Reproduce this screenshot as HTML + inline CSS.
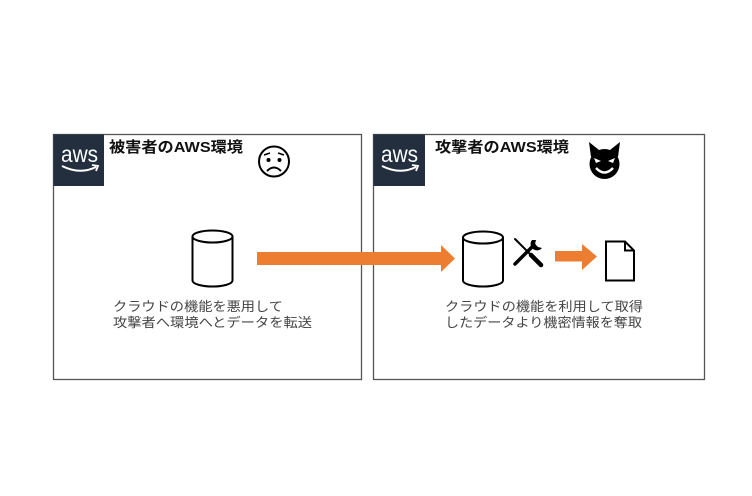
<!DOCTYPE html>
<html>
<head>
<meta charset="utf-8">
<style>
  html,body{margin:0;padding:0;background:#fff;}
  body{width:752px;height:496px;overflow:hidden;}
  svg{display:block;}
  .t{font-family:"Liberation Sans","Noto Sans CJK JP",sans-serif;}
</style>
</head>
<body>
<svg width="752" height="496" viewBox="0 0 752 496" xmlns="http://www.w3.org/2000/svg">
  <rect x="0" y="0" width="752" height="496" fill="#fff"/>

  <!-- Boxes -->
  <rect x="53.5" y="134.5" width="308" height="245" fill="none" stroke="#555" stroke-width="1.3"/>
  <rect x="373.5" y="134.5" width="331" height="245" fill="none" stroke="#555" stroke-width="1.3"/>

  <!-- AWS logo left -->
  <rect x="53.5" y="134.5" width="50.5" height="51.5" fill="#232f3e"/>
  <text x="61" y="162" class="t" font-size="23" fill="#fff" textLength="37" lengthAdjust="spacingAndGlyphs">aws</text>
  <path d="M62,166 Q80,175 96,167" fill="none" stroke="#fff" stroke-width="2"/>
  <path d="M92,165 L98,166 L96,171" fill="none" stroke="#fff" stroke-width="1.8"/>

  <!-- AWS logo right -->
  <rect x="373.5" y="134.5" width="51.5" height="51.5" fill="#232f3e"/>
  <text x="381" y="162" class="t" font-size="23" fill="#fff" textLength="37" lengthAdjust="spacingAndGlyphs">aws</text>
  <path d="M382,166 Q400,175 416,167" fill="none" stroke="#fff" stroke-width="2"/>
  <path d="M412,165 L418,166 L416,171" fill="none" stroke="#fff" stroke-width="1.8"/>

  <!-- Titles -->
  <text x="109" y="152" class="t" font-size="15" font-weight="bold" fill="#111" textLength="134" lengthAdjust="spacingAndGlyphs">被害者のAWS環境</text>
  <text x="435" y="152" class="t" font-size="15" font-weight="bold" fill="#111" textLength="134" lengthAdjust="spacingAndGlyphs">攻撃者のAWS環境</text>

  <!-- Sad face -->
  <circle cx="274" cy="161.5" r="15" fill="none" stroke="#000" stroke-width="2"/>
  <circle cx="268.5" cy="160" r="2" fill="#000"/>
  <circle cx="279.5" cy="160" r="2" fill="#000"/>
  <path d="M264,155 L270,153" stroke="#000" stroke-width="1.6" fill="none"/>
  <path d="M284,155 L278,153" stroke="#000" stroke-width="1.6" fill="none"/>
  <path d="M267,171 Q274,164 281,171" stroke="#000" stroke-width="2" fill="none"/>

  <!-- Devil face -->
  <path d="M589,142 L591,157 L599,150 Z" fill="#000"/>
  <path d="M620,142 L618,157 L610,150 Z" fill="#000"/>
  <circle cx="604.5" cy="164" r="15" fill="#000"/>
  <path d="M594,158 L601,161 L596,163 Z" fill="#fff"/>
  <path d="M615,158 L608,161 L613,163 Z" fill="#fff"/>
  <path d="M596,168 Q604.5,177 613,168" stroke="#fff" stroke-width="2.4" fill="none"/>

  <!-- Left cylinder -->
  <g fill="none" stroke="#000" stroke-width="2">
    <ellipse cx="212.5" cy="236.5" rx="20" ry="6"/>
    <path d="M192.5,236.5 V280.5 A20,6 0 0 0 232.5,280.5 V236.5"/>
  </g>

  <!-- Right cylinder -->
  <g fill="none" stroke="#000" stroke-width="2">
    <ellipse cx="483" cy="237.5" rx="20" ry="6"/>
    <path d="M463,237.5 V280.5 A20,6 0 0 0 503,280.5 V237.5"/>
  </g>

  <!-- Long arrow -->
  <polygon points="257,252 441,252 441,245 455,258.5 441,272 441,265 257,265" fill="#ed7d31"/>

  <!-- Tools -->
  <g stroke="#000" stroke-linecap="round">
    <line x1="515" y1="239" x2="531" y2="255" stroke-width="2"/>
    <line x1="531" y1="255" x2="541" y2="265" stroke-width="4.5"/>
    <line x1="515" y1="264" x2="534" y2="245" stroke-width="3.5"/>
  </g>
  <path d="M532,240 A6,6 0 1 0 542,248 L538,247 L535,244 L536,240 Z" fill="#000"/>

  <!-- Small arrow -->
  <polygon points="555,251 582,251 582,244 597,256.5 582,270 582,261.5 555,261.5" fill="#ed7d31"/>

  <!-- Document -->
  <g fill="none" stroke="#000" stroke-width="2" stroke-linejoin="miter">
    <path d="M606,241.5 H625 L634,250.5 V280.5 H606 Z"/>
    <path d="M625,241.5 V250.5 H634"/>
  </g>

  <!-- Texts -->
  <text x="113" y="311" class="t" font-size="13" fill="#444" textLength="170" lengthAdjust="spacingAndGlyphs">クラウドの機能を悪用して</text>
  <text x="113" y="327" class="t" font-size="13" fill="#444" textLength="199" lengthAdjust="spacingAndGlyphs">攻撃者へ環境へとデータを転送</text>
  <text x="445" y="311" class="t" font-size="13" fill="#444" textLength="198" lengthAdjust="spacingAndGlyphs">クラウドの機能を利用して取得</text>
  <text x="445" y="327" class="t" font-size="13" fill="#444" textLength="197" lengthAdjust="spacingAndGlyphs">したデータより機密情報を奪取</text>
</svg>
</body>
</html>
